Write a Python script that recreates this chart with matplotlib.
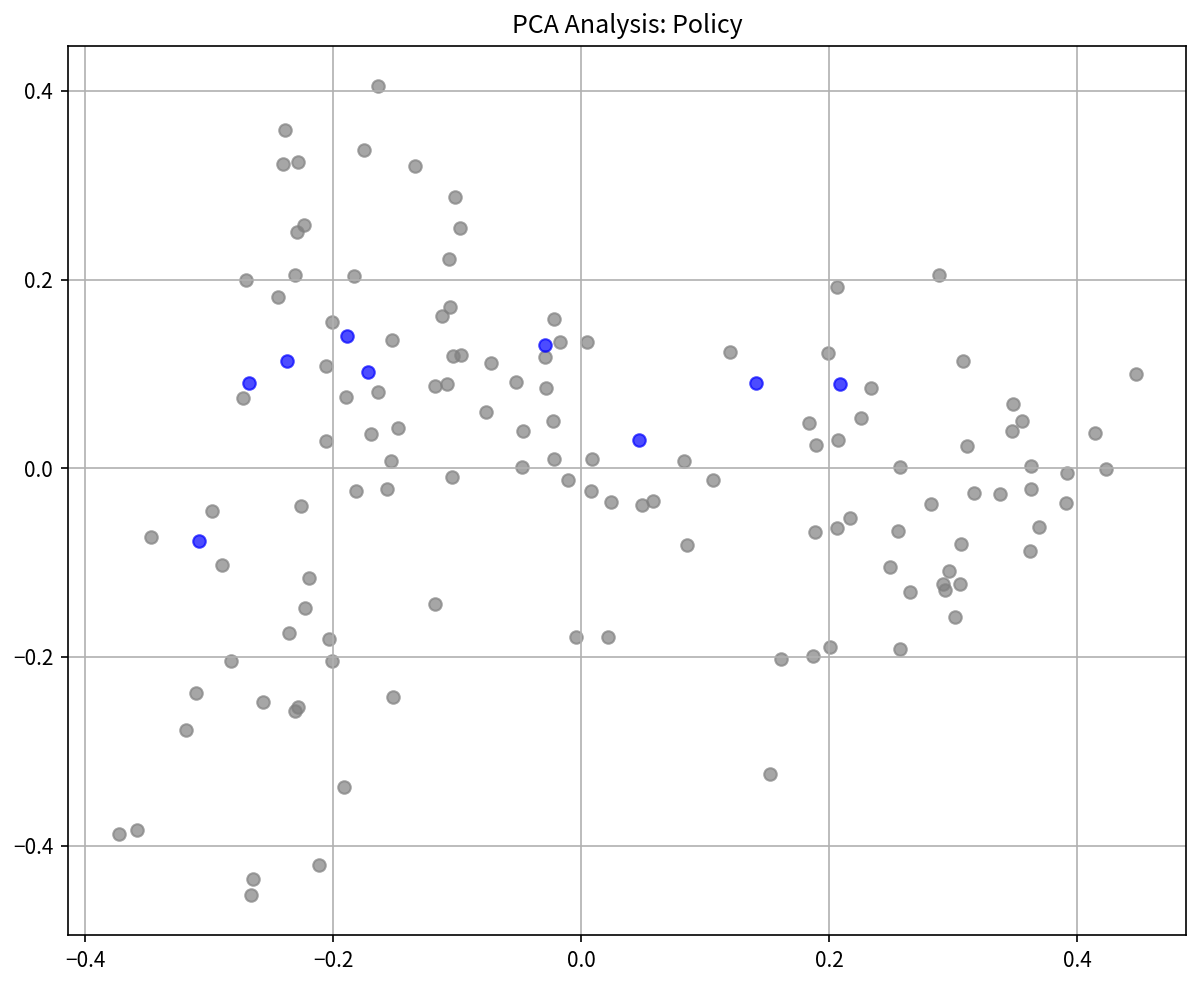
import matplotlib
matplotlib.use("Agg")
import matplotlib.pyplot as plt

plt.rcParams['font.family'] = ['Noto Sans CJK SC', 'DejaVu Sans']

# PCA coordinates
other_x = [-0.164, -0.239, -0.175, -0.240, -0.2285, -0.134, -0.1015, -0.098, -0.1066,
           -0.2236, -0.2287, -0.2306, -0.1834, -0.2706, -0.2443, -0.2005, -0.1522,
           -0.1055, -0.1122, -0.1036, -0.0969, -0.2056, -0.2728, -0.1895, -0.164,
           -0.1181, -0.1085, -0.1479, -0.1691, -0.2059, -0.1533, -0.1042, -0.1815,
           -0.1562,
           -0.2975, -0.2258, -0.3471, -0.2894, -0.2196, -0.2228, -0.2357, -0.2035,
           -0.2827, -0.2008, -0.1176, -0.3106, -0.2566, -0.2279, -0.2306, -0.152,
           -0.3184, -0.1914, -0.3729, -0.3584, -0.2115, -0.2642, -0.2658,
           -0.022, -0.0174, 0.0046, -0.0293, -0.0728, 0.1197, -0.0526, -0.0285,
           -0.0765, -0.0228, -0.0472, -0.022, 0.0086, 0.0827, -0.0478, -0.0107,
           0.1063, 0.0083, 0.0244, 0.0494, 0.058, 0.0851, -0.0038, 0.0215, 0.1613,
           0.152,
           0.2883, 0.2065, 0.1992, 0.3077, 0.4471, 0.2336, 0.3486, 0.1841, 0.2258,
           0.3559, 0.3478, 0.189, 0.2075, 0.4143, 0.3114, 0.2573, 0.3626, 0.3914,
           0.4234, 0.3171, 0.3378, 0.3629, 0.2824, 0.3906, 0.2167, 0.2065, 0.1887,
           0.2555, 0.3696, 0.3061, 0.3618, 0.2487, 0.2964, 0.2918, 0.2937, 0.3058,
           0.2649, 0.3017, 0.2008, 0.1873, 0.2573]
other_y = [0.405, 0.358, 0.337, 0.322, 0.325, 0.320, 0.287, 0.255, 0.222,
           0.258, 0.250, 0.205, 0.204, 0.199, 0.182, 0.155, 0.136,
           0.171, 0.161, 0.119, 0.120, 0.108, 0.074, 0.075, 0.081,
           0.087, 0.089, 0.043, 0.036, 0.029, 0.008, -0.009, -0.024,
           -0.022,
           -0.045, -0.040, -0.073, -0.1025, -0.116, -0.148, -0.175, -0.181,
           -0.204, -0.204, -0.1435, -0.2385, -0.248, -0.253, -0.257, -0.243,
           -0.278, -0.3375, -0.388, -0.384, -0.421, -0.435, -0.452,
           0.158, 0.134, 0.134, 0.118, 0.112, 0.123, 0.0915, 0.0845,
           0.0594, 0.050, 0.039, 0.010, 0.0095, 0.008, 0.001, -0.012,
           -0.0124, -0.0245, -0.0353, -0.0392, -0.0346, -0.0813, -0.1788, -0.1792, -0.2018,
           -0.324,
           0.205, 0.192, 0.122, 0.1135, 0.100, 0.0845, 0.068, 0.048, 0.053,
           0.050, 0.039, 0.025, 0.030, 0.0376, 0.024, 0.0016, 0.0023, -0.0052,
           -0.0013, -0.026, -0.027, -0.022, -0.038, -0.037, -0.053, -0.063, -0.068,
           -0.067, -0.062, -0.080, -0.088, -0.105, -0.109, -0.123, -0.129, -0.1227,
           -0.1316, -0.158, -0.190, -0.199, -0.1916]

policy_x = [-0.189, -0.2368, -0.1718, -0.2679, -0.3085, -0.0293, 0.1407, 0.0467, 0.2089]
policy_y = [0.140, 0.114, 0.102, 0.090, -0.077, 0.1304, 0.0908, 0.0304, 0.089]

fig = plt.figure(figsize=(8, 983 / 150), dpi=150)
ax = fig.add_axes([0.0565, 0.0488, 0.9322, 0.9047])

ax.scatter(other_x, other_y, color='gray', alpha=0.7)
ax.scatter(policy_x, policy_y, color='blue', alpha=0.7)
ax.set_title("PCA Analysis: Policy")
ax.grid(True)

fig.savefig("out.png", dpi=150)
